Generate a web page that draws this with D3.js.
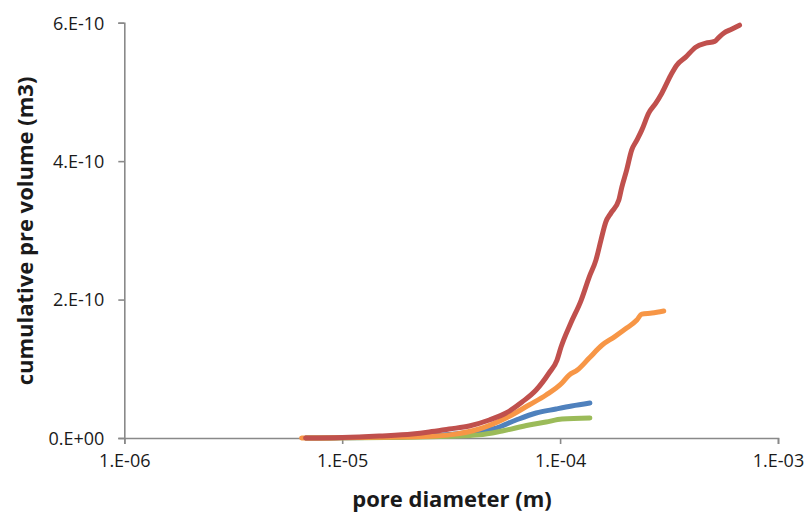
<!DOCTYPE html>
<html>
<head>
<meta charset="utf-8">
<script src="https://cdn.jsdelivr.net/npm/d3@7"></script>
<style>
  body { margin: 0; background: #fff; }
  text { font-family: "Open Sans", Lato, sans-serif; }
</style>
</head>
<body>
<div id="chart"></div>
<script>
// pore diameters (m) and cumulative volumes (m3)
var redDiam = [6.79e-6, 1.0e-5, 1.48e-5, 2.10e-5, 2.51e-5, 3.10e-5, 3.83e-5, 4.73e-5, 5.65e-5, 6.69e-5, 7.76e-5, 8.90e-5, 9.68e-5, 1.01e-4, 1.12e-4, 1.25e-4, 1.36e-4, 1.46e-4, 1.54e-4, 1.62e-4, 1.71e-4, 1.86e-4, 1.92e-4, 2.02e-4, 2.13e-4, 2.25e-4, 2.37e-4, 2.55e-4, 2.75e-4, 2.93e-4, 3.22e-4, 3.43e-4, 3.77e-4, 4.19e-4, 4.66e-4, 5.12e-4, 5.34e-4, 5.63e-4, 6.12e-4, 6.66e-4];
var redVol = [0, 0.007e-10, 0.029e-10, 0.058e-10, 0.087e-10, 0.130e-10, 0.173e-10, 0.260e-10, 0.361e-10, 0.520e-10, 0.693e-10, 0.939e-10, 1.126e-10, 1.314e-10, 1.661e-10, 1.993e-10, 2.325e-10, 2.570e-10, 2.859e-10, 3.119e-10, 3.249e-10, 3.437e-10, 3.625e-10, 3.870e-10, 4.159e-10, 4.303e-10, 4.448e-10, 4.693e-10, 4.838e-10, 4.982e-10, 5.242e-10, 5.386e-10, 5.502e-10, 5.646e-10, 5.704e-10, 5.730e-10, 5.785e-10, 5.848e-10, 5.906e-10, 5.964e-10];

var orangeDiam = [6.51e-6, 1.0e-5, 1.48e-5, 2.51e-5, 3.10e-5, 4.25e-5, 5.65e-5, 7.20e-5, 8.62e-5, 1.02e-4, 1.10e-4, 1.20e-4, 1.36e-4, 1.56e-4, 1.77e-4, 2.02e-4, 2.25e-4, 2.37e-4, 2.64e-4, 2.99e-4];
var orangeVol = [0, 0.003e-10, 0.012e-10, 0.025e-10, 0.045e-10, 0.130e-10, 0.289e-10, 0.477e-10, 0.621e-10, 0.794e-10, 0.910e-10, 0.982e-10, 1.155e-10, 1.343e-10, 1.458e-10, 1.588e-10, 1.704e-10, 1.790e-10, 1.805e-10, 1.834e-10];

var blueDiam = [6.8e-6, 1.0e-5, 2.0e-5, 3.1e-5, 4.25e-5, 5.09e-5, 6.28e-5, 7.76e-5, 9.58e-5, 1.13e-4, 1.37e-4];
var blueVol = [0, 0.003e-10, 0.02e-10, 0.05e-10, 0.10e-10, 0.144e-10, 0.260e-10, 0.361e-10, 0.419e-10, 0.462e-10, 0.505e-10];

var greenDiam = [6.8e-6, 1.0e-5, 2.0e-5, 3.1e-5, 4.25e-5, 5.42e-5, 7.2e-5, 8.62e-5, 1.02e-4, 1.37e-4];
var greenVol = [0, 0.002e-10, 0.01e-10, 0.025e-10, 0.045e-10, 0.101e-10, 0.188e-10, 0.231e-10, 0.274e-10, 0.289e-10];

var xTicks = [1e-6, 1e-5, 1e-4, 1e-3];
var xTickLabels = ["1.E-06", "1.E-05", "1.E-04", "1.E-03"];
var yTicks = [0, 2e-10, 4e-10, 6e-10];
var yTickLabels = ["0.E+00", "2.E-10", "4.E-10", "6.E-10"];

var width = 805, height = 517;
var plotLeft = 124.3, plotRight = 778, plotTop = 22.7, plotBottom = 438;

var svg = d3.select("#chart").append("svg")
    .attr("width", width)
    .attr("height", height);

var x = d3.scaleLog().domain([1e-6, 1e-3]).range([plotLeft, plotRight]);
var y = d3.scaleLinear().domain([0, 6e-10]).range([plotBottom, plotTop]);

var axisColor = "#898989";

/*****************  Axes **********************/
var xAxis = svg.append("g")
    .attr("transform", "translate(0," + plotBottom + ")")
    .call(d3.axisBottom(x).tickValues(xTicks).tickSize(6).tickPadding(10)
        .tickFormat(function (d, i) { return xTickLabels[i]; }));

var yAxis = svg.append("g")
    .attr("transform", "translate(" + plotLeft + ",0)")
    .call(d3.axisLeft(y).tickValues(yTicks).tickSize(6).tickPadding(14)
        .tickFormat(function (d, i) { return yTickLabels[i]; }));

[xAxis, yAxis].forEach(function (g) {
    g.select(".domain").attr("stroke", axisColor).attr("stroke-width", 1.6);
    g.selectAll(".tick line").attr("stroke", axisColor).attr("stroke-width", 1.6);
    g.selectAll(".tick text")
        .attr("fill", "#1a1a1a")
        .style("font-size", "18px")
        .style("font-family", "'Open Sans', Lato, sans-serif");
});
xAxis.selectAll(".tick text").attr("dy", "0.71em");
yAxis.selectAll(".tick text").attr("dy", "0.35em");

/*****************  Series **********************/
var line = d3.line()
    .x(function (d) { return x(d[0]); })
    .y(function (d) { return y(d[1]); })
    .curve(d3.curveMonotoneX);

var series = [
    { diam: blueDiam, vol: blueVol, color: "#4F81BD" },
    { diam: greenDiam, vol: greenVol, color: "#9BBB59" },
    { diam: orangeDiam, vol: orangeVol, color: "#F79646" },
    { diam: redDiam, vol: redVol, color: "#C0504D" }
];

series.forEach(function (s) {
    var pts = s.diam.map(function (d, i) { return [d, s.vol[i]]; });
    svg.append("path")
        .datum(pts)
        .attr("d", line)
        .attr("fill", "none")
        .attr("stroke", s.color)
        .attr("stroke-width", 5)
        .attr("stroke-linecap", "round")
        .attr("stroke-linejoin", "round");
});

/*****************  Titles **********************/
svg.append("text")
    .attr("x", 452)
    .attr("y", 507)
    .attr("text-anchor", "middle")
    .style("font-size", "22px")
    .style("font-weight", "bold")
    .attr("fill", "#1a1a1a")
    .text("pore diameter (m)");

svg.append("text")
    .attr("transform", "translate(33,231) rotate(-90)")
    .attr("text-anchor", "middle")
    .style("font-size", "22px")
    .style("font-weight", "bold")
    .attr("fill", "#1a1a1a")
    .text("cumulative pre volume (m3)");
</script>
</body>
</html>
